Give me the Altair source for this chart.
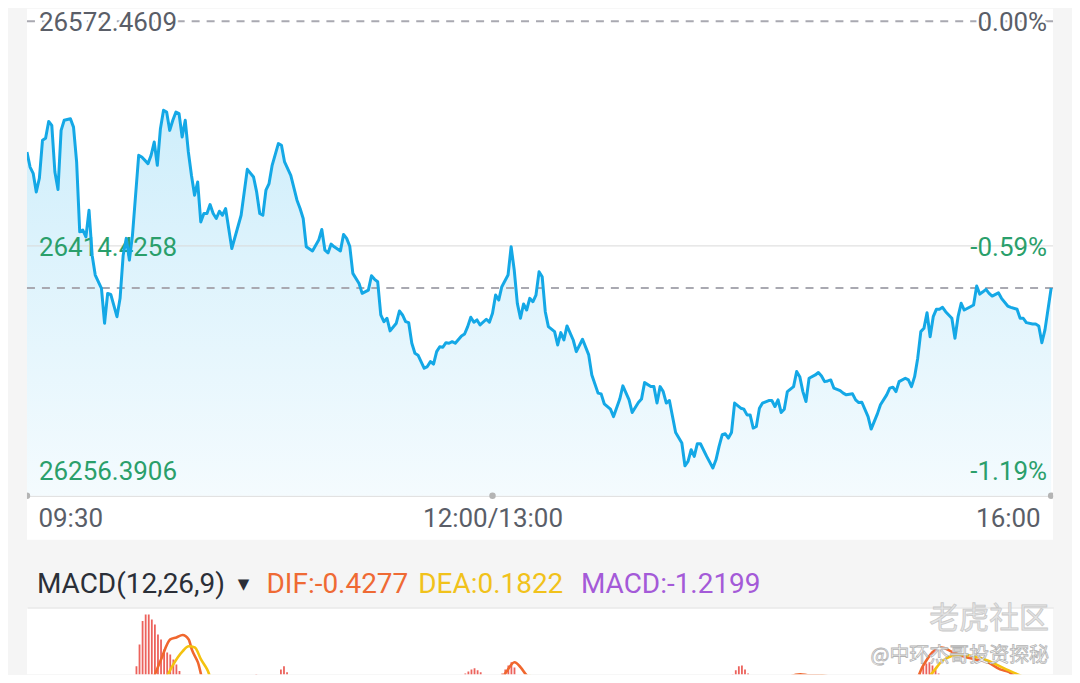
import altair as alt
import pandas as pd

# ---------------- data ----------------
minutes = [
    0, 1, 2, 3, 4, 5, 6, 7, 8, 9,
    10, 11, 12, 14, 15, 16, 17, 18, 19, 20,
    21, 22, 24, 25, 26, 27, 29, 30, 31, 32,
    33, 34, 36, 37, 39, 40, 41, 42, 43, 44,
    45, 46, 47, 48, 49, 50, 51, 52, 53, 54,
    55, 56, 57, 58, 59, 60, 61, 62, 63, 64,
    66, 69, 71, 73, 74, 75, 76, 77, 78, 79,
    81, 82, 83, 85, 87, 88, 89, 90, 92, 94,
    95, 96, 97, 98, 99, 101, 102, 103, 104, 105,
    107, 108, 110, 111, 112, 113, 114, 115, 116, 117,
    119, 120, 121, 122, 123, 124, 125, 126, 128, 129,
    130, 131, 132, 133, 134, 135, 136, 137, 138, 140,
    141, 142, 143, 144, 145, 146, 148, 149, 150, 151,
    152, 153, 155, 156, 157, 158, 159, 160, 161, 162,
    163, 164, 165, 166, 167, 168, 170, 171, 172, 173,
    174, 176, 177, 179, 181, 182, 184, 185, 186, 188,
    189, 191, 192, 194, 195, 197, 198, 199, 201, 202,
    203, 204, 205, 206, 207, 208, 209, 211, 212, 213,
    214, 215, 216, 217, 219, 221, 222, 223, 224, 225,
    226, 227, 228, 230, 231, 232, 233, 234, 235, 236,
    237, 239, 240, 241, 242, 243, 244, 245, 247, 248,
    249, 250, 251, 252, 254, 255, 256, 257, 258, 259,
    260, 262, 263, 264, 266, 267, 268, 269, 271, 272,
    274, 275, 277, 278, 279, 280, 281, 283, 284, 285,
    286, 287, 288, 289, 290, 291, 292, 293, 294, 295,
    296, 298, 299, 300, 301, 302, 304, 305, 306, 307,
    308, 309, 310, 311, 313, 314, 316, 317, 319, 320,
    321, 322, 324, 325, 326, 327, 328, 330,
]
prices = [
    26480.5, 26469.9, 26465.5, 26452.4, 26462.0, 26488.7, 26490.1, 26502.0, 26499.2, 26466.4,
    26454.1, 26495.7, 26502.8, 26503.9, 26498.0, 26473.5, 26424.3, 26425.5, 26420.8, 26439.5,
    26407.9, 26393.9, 26384.5, 26360.0, 26381.0, 26380.3, 26364.6, 26377.5, 26407.9, 26419.7,
    26404.4, 26422.0, 26478.2, 26477.0, 26472.3, 26478.2, 26487.5, 26471.1, 26496.9, 26509.8,
    26508.6, 26495.7, 26502.8, 26508.6, 26507.5, 26491.0, 26502.8, 26480.5, 26464.1, 26450.1,
    26459.4, 26431.3, 26437.2, 26437.2, 26443.5, 26437.2, 26433.7, 26438.8, 26436.0, 26440.7,
    26412.6, 26436.0, 26468.3, 26462.9, 26452.4, 26437.2, 26436.0, 26453.6, 26458.3, 26471.1,
    26486.4, 26485.2, 26473.5, 26464.0, 26446.6, 26440.7, 26433.7, 26413.8, 26410.9, 26418.5,
    26426.0, 26411.4, 26409.5, 26415.7, 26413.8, 26410.9, 26422.5, 26419.7, 26414.2, 26395.1,
    26388.0, 26381.0, 26383.3, 26393.4, 26390.9, 26389.2, 26365.8, 26361.1, 26363.5, 26354.6,
    26360.0, 26368.6, 26365.8, 26361.1, 26360.4, 26345.9, 26338.9, 26337.5, 26328.3, 26329.5,
    26333.0, 26331.2, 26340.0, 26343.5, 26343.1, 26346.3, 26345.9, 26347.0, 26345.9, 26351.0,
    26352.4, 26357.6, 26364.2, 26360.7, 26362.3, 26358.8, 26362.8, 26360.7, 26367.0, 26379.8,
    26376.3, 26385.7, 26393.9, 26413.8, 26397.4, 26374.0, 26363.5, 26373.5, 26369.3, 26377.5,
    26375.1, 26379.8, 26396.2, 26392.7, 26368.1, 26357.6, 26354.1, 26344.7, 26353.4, 26348.2,
    26358.1, 26348.2, 26340.0, 26348.7, 26337.7, 26323.6, 26310.8, 26310.3, 26303.3, 26299.5,
    26294.3, 26306.6, 26315.9, 26306.1, 26297.2, 26304.2, 26306.6, 26318.2, 26315.4, 26315.4,
    26303.8, 26315.4, 26311.9, 26303.8, 26305.6, 26294.3, 26283.1, 26275.7, 26259.7, 26262.7,
    26271.0, 26266.3, 26275.2, 26275.2, 26266.3, 26258.1, 26263.9, 26273.3, 26281.5, 26282.2,
    26279.2, 26283.1, 26303.8, 26300.2, 26299.5, 26295.5, 26295.5, 26286.2, 26287.3, 26300.2,
    26303.8, 26305.6, 26305.6, 26301.4, 26306.1, 26297.2, 26299.5, 26311.9, 26315.4, 26326.0,
    26322.4, 26311.9, 26304.9, 26321.3, 26323.6, 26325.3, 26322.9, 26318.9, 26319.4, 26320.1,
    26314.3, 26312.6, 26310.8, 26309.6, 26310.3, 26306.1, 26304.2, 26304.4, 26294.3, 26285.5,
    26296.2, 26302.6, 26309.6, 26314.3, 26315.0, 26311.9, 26318.9, 26321.3, 26320.1, 26315.4,
    26322.4, 26335.4, 26354.1, 26356.4, 26367.4, 26350.5, 26364.6, 26369.8, 26369.8, 26371.2,
    26368.1, 26363.5, 26349.4, 26364.6, 26374.0, 26369.3, 26371.6, 26372.8, 26386.2, 26380.5,
    26382.1, 26383.8, 26381.0, 26379.1, 26381.4, 26377.5, 26372.1, 26371.2, 26369.8, 26363.5,
    26363.5, 26360.4, 26359.5, 26359.5, 26358.1, 26346.3, 26355.3, 26384.8,
]
assert len(minutes) == len(prices)

PREV_CLOSE = 26572.4609
MID_PRICE = 26414.4258
LOW_PRICE = 26256.3906
level_values = [PREV_CLOSE, MID_PRICE, LOW_PRICE]
pct_labels = ["0.00%", "-0.59%", "-1.19%"]

time_ticks = [0, 150, 330]
time_labels = ["09:30", "12:00/13:00", "16:00"]

# MACD panel (only the upper part is visible in the picture)
hist_minutes = [13, 14, 15,
                33, 34, 35, 36, 37, 38, 39, 40, 41, 42, 43, 44, 45, 46, 47, 48, 49, 50,
                72, 73, 74,
                80, 81, 82, 83, 84,
                137, 138, 139, 140, 141, 142, 143, 144, 145, 146, 147, 148, 149,
                151, 152, 153, 154, 155, 156, 157, 158,
                201, 202,
                226, 227, 228, 229, 230, 231, 232, 233, 234,
                287, 288, 289, 290, 291, 292, 293, 294, 295, 296, 297]
hist_values = [3.8, 4.6, 4.0,
               5.8, 8.3, 13.75, 19.6, 21.25, 21.25, 20.0, 18.75, 16.25, 15.0, 12.5, 11.75, 11.25, 10.0, 8.75, 7.1, 5.5, 4.25,
               5.0, 6.3, 5.3,
               5.5, 7.5, 8.3, 6.8, 5.0,
               4.5, 5.0, 5.5, 6.0, 6.5, 7.0, 7.5, 7.8, 7.3, 6.8, 6.0, 5.3, 4.5,
               4.8, 5.5, 6.5, 7.5, 8.5, 9.3, 8.0, 5.5,
               4.5, 5.0,
               4.5, 5.3, 6.3, 7.3, 8.3, 8.5, 7.5, 6.5, 5.0,
               4.5, 5.5, 7.0, 8.3, 9.0, 9.3, 8.5, 7.5, 6.5, 5.5, 4.8]
dif_minutes = [39, 42, 45, 47, 49, 51, 52, 54, 56,
               80, 82, 84, 86,
               151, 154, 157, 159, 161, 165, 168,
               244, 247, 250, 253, 256, 259, 262, 265,
               287, 290, 293, 296, 299, 303, 307, 311, 315, 318, 320, 323]
dif_values = [4.25, 10.0, 15.0, 15.5, 16.1, 15.0, 12.5, 9.25, 4.25,
              3.5, 5.0, 5.0, 4.0,
              4.0, 6.5, 9.3, 8.0, 6.0, 4.5, 3.0,
              3.5, 5.8, 6.3, 6.0, 6.0, 5.8, 5.0, 3.5,
              4.25, 8.5, 11.8, 13.0, 12.0, 10.8, 10.0, 9.3, 7.5, 6.8, 5.5, 4.25]
dea_minutes = [43, 46, 49, 51, 53, 55, 57, 59,
               156, 159, 162, 165, 168, 170,
               248, 251, 254, 257, 260, 263, 266,
               290, 293, 296, 299, 302, 305, 309, 313, 317, 320, 323, 326]
dea_values = [4.25, 8.75, 12.0, 13.3, 13.0, 10.0, 7.5, 4.25,
              4.0, 5.5, 5.8, 5.3, 4.2, 3.0,
              3.5, 5.0, 5.5, 5.8, 5.6, 5.0, 3.8,
              4.5, 6.7, 9.5, 10.8, 11.2, 11.0, 10.3, 9.0, 7.5, 6.5, 5.4, 4.0]
macd_name = "MACD(12,26,9)"
last_dif, last_dea, last_macd = -0.4277, 0.1822, -1.2199
watermark_brand = "老虎社区"
watermark_author = "@中环杰哥投资探秘"

# ---------------- layout / style ----------------
W = 1028
H1 = 532
H2 = 67
GAP = 68
X_MAX = 330.6
k = (PREV_CLOSE - LOW_PRICE) / 450.0
y_domain = [PREV_CLOSE - (H1 - 12.7) * k, PREV_CLOSE + 12.7 * k]
baseline = PREV_CLOSE - (488 - 12.7) * k

GREY_TXT = "#5a5e68"
GREEN = "#2a9f6b"
BLUE = "#14a8e6"
DASH = "#a9a9b1"
FONT = "Roboto"

xscale = alt.Scale(domain=[0, X_MAX], nice=False, zero=False)
yscale = alt.Scale(domain=y_domain, nice=False, zero=False)

label_expr = " : ".join(
    f"datum.value == {t} ? '{l}'" for t, l in zip(time_ticks[:-1], time_labels[:-1])
) + f" : '{time_labels[-1]}'"

x_axis = alt.Axis(
    values=time_ticks, labelExpr=label_expr, orient="bottom", offset=-(H1 - 488),
    domainColor="#e2e2e2", domainWidth=1.5, ticks=False, tickSize=0, grid=False,
    labelFont=FONT, labelFontSize=26, labelColor=GREY_TXT, labelPadding=23,
    labelBaseline="middle", labelFlush=6, labelFlushOffset=-11, labelOverlap=False,
    title=None,
)


def X(field):
    return alt.X(field, type="quantitative", scale=xscale, axis=x_axis)


price_df = pd.DataFrame({"minute": minutes, "price": prices})
level_df = pd.DataFrame({
    "v": level_values,
    "left": [f"{v:.4f}" for v in level_values],
    "right": pct_labels,
    "i": list(range(len(level_values))),
})

gradient = alt.Gradient(
    gradient="linear",
    stops=[alt.GradientStop(color="#cfeefb", offset=0),
           alt.GradientStop(color="#f4fbfe", offset=1)],
    x1=1, x2=1, y1=0, y2=1,
)

area = alt.Chart(price_df).mark_area(color=gradient, clip=True).encode(
    x=X("minute"),
    y=alt.Y("price:Q", scale=yscale, axis=None),
    y2=alt.datum(baseline),
)

mid_rule = alt.Chart(level_df).transform_filter("datum.i == 1").mark_rule(
    color="#d9d9d9", strokeWidth=1
).encode(y=alt.Y("v:Q", scale=yscale, axis=None))

top_rule = alt.Chart(level_df).transform_filter("datum.i == 0").mark_rule(
    color=DASH, strokeWidth=2, strokeDash=[8, 7]
).encode(y=alt.Y("v:Q", scale=yscale, axis=None))

last_df = pd.DataFrame({"v": [prices[-1]]})
last_rule = alt.Chart(last_df).mark_rule(
    color=DASH, strokeWidth=2, strokeDash=[8, 7]
).encode(y=alt.Y("v:Q", scale=yscale, axis=None))

top_df_chart = alt.Chart(level_df).transform_filter("datum.i == 0")
halo_left = top_df_chart.mark_text(
    align="left", baseline="middle", dx=12, dy=2, font=FONT, fontSize=26,
    color="white", stroke="white", strokeWidth=5,
).encode(x=alt.datum(0), y=alt.Y("v:Q", scale=yscale, axis=None), text="left:N")
halo_right = top_df_chart.mark_text(
    align="right", baseline="middle", dx=-6, dy=2, font=FONT, fontSize=26,
    color="white", stroke="white", strokeWidth=5,
).encode(x=alt.datum(X_MAX), y=alt.Y("v:Q", scale=yscale, axis=None), text="right:N")

lab_color = alt.condition("datum.i == 0", alt.value(GREY_TXT), alt.value(GREEN))
left_text = alt.Chart(level_df).mark_text(
    align="left", baseline="middle", dx=12, dy=2, font=FONT, fontSize=26,
).encode(x=alt.datum(0), y=alt.Y("v:Q", scale=yscale, axis=None),
         text="left:N", color=lab_color)
right_text = alt.Chart(level_df).mark_text(
    align="right", baseline="middle", dx=-6, dy=2, font=FONT, fontSize=26,
).encode(x=alt.datum(X_MAX), y=alt.Y("v:Q", scale=yscale, axis=None),
         text="right:N", color=lab_color)

line = alt.Chart(price_df).mark_line(
    color=BLUE, strokeWidth=3, strokeJoin="round", clip=True
).encode(x=X("minute"), y=alt.Y("price:Q", scale=yscale, axis=None))

dots = alt.Chart(pd.DataFrame({"t": time_ticks})).mark_point(
    filled=True, size=42, color="#b4b4b4", opacity=1, clip=True
).encode(x=X("t"), y=alt.datum(baseline))

price_panel = alt.layer(
    area, mid_rule, top_rule, last_rule, halo_left, halo_right,
    left_text, right_text, line, dots,
).properties(width=W, height=H1)

# ---------------- MACD panel ----------------
mscale = alt.Scale(domain=[23 - H2 / 4.0, 23], nice=False, zero=False)
mx_axis = alt.Axis(orient="top", labels=False, ticks=False, grid=False,
                   domainColor="#dedede", domainWidth=1, title=None)


def MX(field):
    return alt.X(field, type="quantitative", scale=xscale, axis=mx_axis)


hist = alt.Chart(pd.DataFrame({"m": hist_minutes, "h": hist_values})).mark_bar(
    size=1.8, color="#ec625c", clip=True
).encode(x=MX("m"), y=alt.Y("h:Q", scale=mscale, axis=None), y2=alt.datum(0))

dif_line = alt.Chart(pd.DataFrame({"m": dif_minutes, "v": dif_values})).mark_line(
    color="#f0672e", strokeWidth=2.6, interpolate="monotone", clip=True
).encode(x=MX("m"), y=alt.Y("v:Q", scale=mscale, axis=None))

dea_line = alt.Chart(pd.DataFrame({"m": dea_minutes, "v": dea_values})).mark_line(
    color="#f4c20f", strokeWidth=2.6, interpolate="monotone", clip=True
).encode(x=MX("m"), y=alt.Y("v:Q", scale=mscale, axis=None))


def header_text(txt, xpos, color, size=28, align="left", ypos=-23, font=FONT):
    return alt.Chart(pd.DataFrame({"t": [txt]})).mark_text(
        align=align, baseline="middle", font=font, fontSize=size, color=color
    ).encode(x=alt.value(xpos), y=alt.value(ypos), text="t:N")


h_name = header_text(macd_name, 10, "#2b2f38")
h_tri = header_text("▼", 217, "#2b2f38", size=15, align="center", ypos=-24,
                    font="DejaVu Sans")
h_dif = header_text(f"DIF:{last_dif:.4f}", 240, "#ef6a34")
h_dea = header_text(f"DEA:{last_dea:.4f}", 392, "#f1c21b")
h_macd = header_text(f"MACD:{last_macd:.4f}", 555, "#a45ad8")

wm1 = alt.Chart(pd.DataFrame({"t": [watermark_brand]})).mark_text(
    align="right", baseline="middle", font="Noto Sans CJK SC", fontSize=30,
    color="#e4e4e4", stroke="#c9c9c9", strokeWidth=0.8,
).encode(x=alt.value(1024), y=alt.value(12), text="t:N")
wm2 = alt.Chart(pd.DataFrame({"t": [watermark_author]})).mark_text(
    align="right", baseline="middle", font="Noto Sans CJK SC", fontSize=20,
    color="white", stroke="#b3b3b3", strokeWidth=0.8,
).encode(x=alt.value(1024), y=alt.value(49), text="t:N")

macd_panel = alt.layer(
    hist, dif_line, dea_line, h_name, h_tri, h_dif, h_dea, h_macd, wm1, wm2
).properties(width=W, height=H2)

chart = alt.vconcat(price_panel, macd_panel, spacing=GAP, bounds="flush").properties(
    padding={"left": 18, "right": 18, "top": 0, "bottom": 0}
).configure(background="#f5f5f5").configure_view(fill="white", stroke=None)

chart.save("out.html", embed_options={"renderer": "svg", "actions": False})
